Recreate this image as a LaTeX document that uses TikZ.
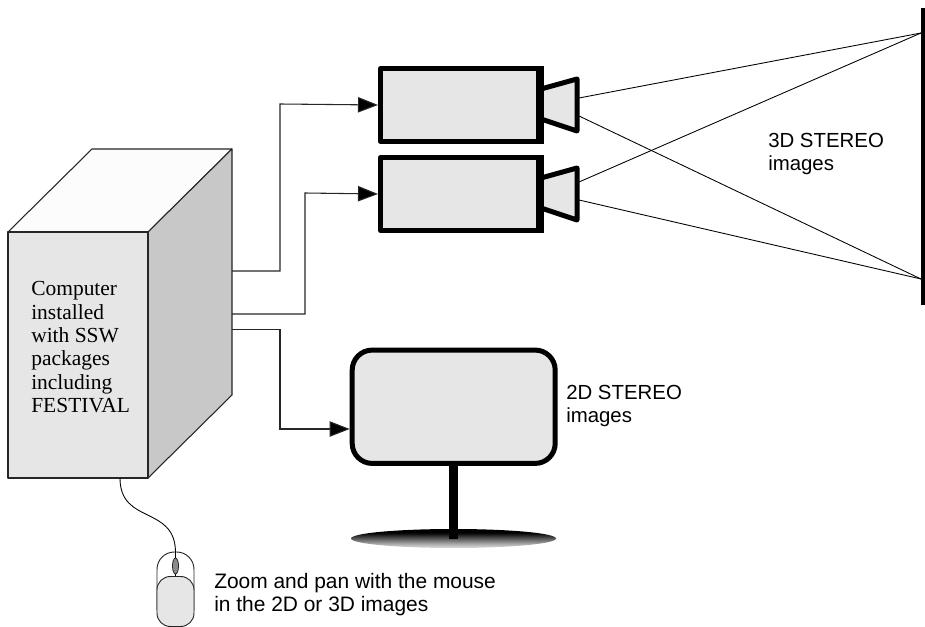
\documentclass[tikz,border=0pt]{standalone}
\usepackage{fontspec}
\setmainfont{Liberation Sans}
\newfontfamily\serifface{Liberation Serif}
\usetikzlibrary{arrows.meta,shapes.geometric}
\definecolor{boxgray}{HTML}{E6E6E6}
\definecolor{sidegray}{HTML}{C8C8C8}
\definecolor{topgray}{HTML}{FCFCFC}
\tikzset{
  px/.style={x=0.75pt,y=-0.75pt},
  wire/.style={draw=black!85,line width=0.8pt,line join=miter,-{Triangle[length=15pt,width=11.5pt,fill=black]}},
  box edge/.style={draw=black!85,line width=0.8pt,line join=round},
  heavy/.style={draw=black,line width=3.75pt,line join=round},
  camera body/.style={heavy,fill=boxgray,rectangle,minimum width=118.5pt,minimum height=54.75pt,inner sep=0pt},
  beam/.style={draw=black,line width=0.65pt},
  sans label/.style={font=\fontsize{15.3}{17.6}\selectfont,align=left,anchor=north west,inner sep=0pt},
  wide label/.style={font=\fontsize{15.7}{17.6}\selectfont,align=left,anchor=north west,inner sep=0pt},
  serif label/.style={font=\serifface\fontsize{16.1}{17.5}\selectfont,align=left,anchor=north west,inner sep=0pt},
}
\begin{document}
\begin{tikzpicture}[px]
\useasboundingbox (0,0) rectangle (925,627);
% computer
\draw[box edge,fill=topgray] (8,232) -- (92,149) -- (232,149) -- (148,232) -- cycle;
\draw[box edge,fill=sidegray] (148,232) -- (232,149) -- (232,395) -- (148,478) -- cycle;
\node[box edge,fill=boxgray,rectangle,minimum width=105pt,minimum height=184.5pt,inner sep=0pt] (front) at (78,355) {};
\node[serif label] (cpu) at (31,281.5) {Computer\\installed\\with SSW\\packages\\including\\FESTIVAL};
% wire ends
\coordinate (o1) at (232,271);
\coordinate (o2) at (232,314);
\coordinate (o3) at (232,329.5);
\coordinate (oM) at (120,478);
% cameras
\node[camera body] (cam1) at (459.5,105) {};
\node[camera body] (cam2) at (459.5,194) {};
\draw[heavy,fill=boxgray] (541,89) -- (577,79) -- (577,131) -- (541,119);
\draw[heavy,fill=boxgray] (541,178) -- (577,168) -- (577,220) -- (541,208);
\fill[boxgray] (538.5,91) rectangle (541,117);
\fill[boxgray] (538.5,180) rectangle (541,206);
\draw[heavy,fill=none] (cam1.north east) -- (cam1.south east);
\draw[heavy,fill=none] (cam2.north east) -- (cam2.south east);
% screen
\coordinate (stop) at (923.5,8);
\coordinate (sbot) at (923.5,305);
\coordinate (hit1) at (921,33);
\coordinate (hit2) at (921,279);
\coordinate (l1a) at (579,98);
\coordinate (l1b) at (579,116);
\coordinate (l2a) at (579,182);
\coordinate (l2b) at (579,200);
\draw[beam] (l1a) -- (hit1);
\draw[beam] (l1b) -- (hit2);
\draw[beam] (l2a) -- (hit1);
\draw[beam] (l2b) -- (hit2);
\draw[draw=black,line width=3.75pt] (stop) -- (sbot);
% monitor base: gradient built from strips, black at the top to light grey at the bottom
\begin{scope}
\clip (453.5,538.5) ellipse [x radius=102.5,y radius=9.5];
\foreach \row/\shadeval in {529/100,530/100,531/100,532/100,533/97,534/92,535/86,536/80,537/74,538/68,539/62,540/56,541/50,542/44,543/38,544/32,545/27,546/22,547/18}{
  \fill[black!\shadeval] (350,\row) rectangle (557,\row+1.1);
}
\end{scope}
\draw[draw=black,line width=7pt] (453.5,465) -- (453.5,539);
\node[draw=black,line width=3.75pt,fill=boxgray,rectangle,rounded corners=15pt,minimum width=152.25pt,minimum height=85pt,inner sep=0pt] (mon) at (453.7,406.75) {};
% wires
\draw[wire] (o1) -- (280,271) -- (280,104) -- (cam1.west);
\draw[wire] (o2) -- (305,314) -- (305,193) -- (cam2.west);
\draw[wire] (o3) -- (280,329.5) -- (280,429) -- (mon.west |- 0,429);
% mouse
\draw[box edge,line width=0.7pt,fill=white,rounded corners=13pt] (157,625) -- (157,552) -- (194,552) -- (194,625) -- cycle;
\node[box edge,line width=0.7pt,fill=boxgray,rectangle,rounded corners=10pt,minimum width=27.75pt,minimum height=37.5pt,inner sep=0pt] (btn) at (175.5,601.5) {};
\node[draw=black!85,line width=0.6pt,fill=black!45,ellipse,minimum width=4.5pt,minimum height=12pt,inner sep=0pt] (wheel) at (175.5,566) {};
\coordinate (mtop) at (175.5,552);
\draw[beam] (wheel.south) -- (btn.north);
\draw[beam] (wheel.north) -- (mtop);
\draw[beam] (oM) .. controls (120,525) and (175,505) .. (mtop);
% labels
\node[sans label] (t3d) at (768,132.5) {3D STEREO\\images};
\node[sans label] (t2d) at (566,385) {2D STEREO\\images};
\node[wide label] (tz) at (214,573) {Zoom and pan with the mouse\\in the 2D or 3D images};
\end{tikzpicture}
\end{document}
